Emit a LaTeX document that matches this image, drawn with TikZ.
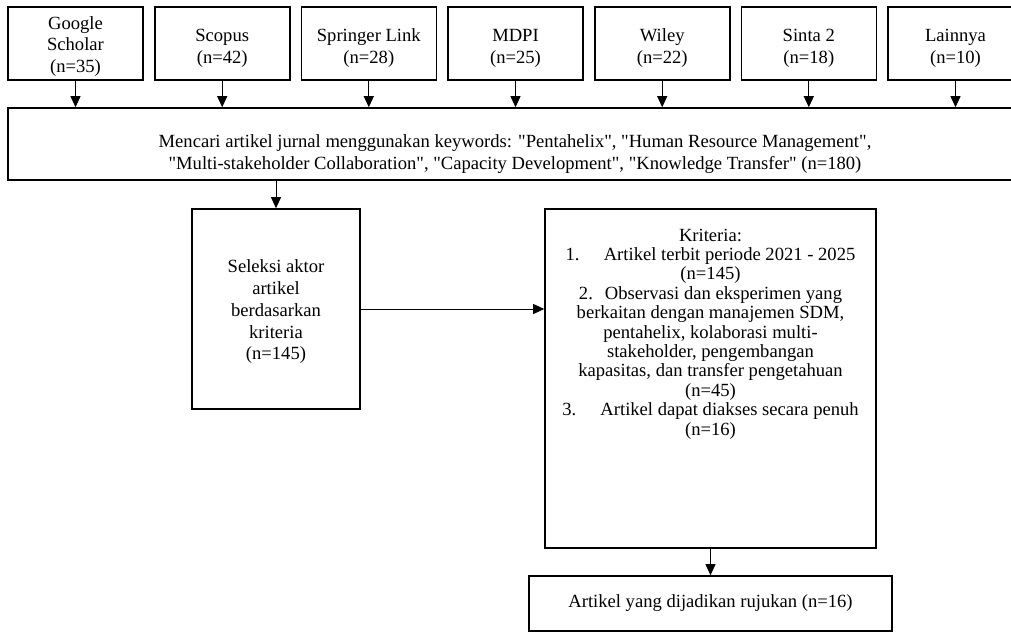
\documentclass[tikz,border=0pt]{standalone}
\usepackage{fontspec}
\setmainfont{Liberation Serif}[Ligatures=TeXOff]
\usetikzlibrary{arrows.meta}

\begin{document}
\begin{tikzpicture}[x=1pt,y=-1pt,->,>={Triangle[width=10pt,length=11pt]},line width=0.8pt,main node/.style={rectangle,draw,line width=1.6pt,align=center,inner sep=0pt,font=\fontsize{18.6}{21.7}\selectfont},src node/.style={main node,minimum width=135pt,minimum height=73pt,text height=43.5pt}]
    \useasboundingbox (0,0) rectangle (1011,633);

        \node[src node,text height=62pt] (1) at (75.5,43.5) {Google\\Scholar\\(n=35)};
        \node[src node] (2) at (222.2,43.5) {Scopus\\(n=42)};
        \node[src node] (3) at (368.8,43.5) {Springer Link\\(n=28)};
        \node[src node] (4) at (515.5,43.5) {MDPI\\(n=25)};
        \node[src node] (5) at (662.2,43.5) {Wiley\\(n=22)};
        \node[src node] (6) at (808.8,43.5) {Sinta 2\\(n=18)};
        \node[src node] (7) at (955.5,43.5) {Lainnya\\(n=10)};
        \node[main node,minimum width=1014pt,minimum height=72pt,text height=55pt] (8) at (515,144) {Mencari artikel jurnal menggunakan keywords: "Pentahelix", "Human Resource Management",\\"Multi-stakeholder Collaboration", "Capacity Development", "Knowledge Transfer" (n=180)};
        \node[main node,minimum width=168pt,minimum height=200pt,text height=105.5pt] (9) at (276,309) {Seleksi aktor\\artikel\\berdasarkan\\kriteria\\(n=145)};
        \node[main node,minimum width=331pt,minimum height=339pt] (10) at (710.5,378.5) {};
        \node[align=center,font=\fontsize{18.6}{19.4}\selectfont] (10t) at (710.5,334) {Kriteria:\\1.\hspace{1.3em}Artikel terbit periode 2021 - 2025\\(n=145)\\2.\hspace{0.65em}Observasi dan eksperimen yang\\berkaitan dengan manajemen SDM,\\pentahelix, kolaborasi multi-\\stakeholder, pengembangan\\kapasitas, dan transfer pengetahuan\\(n=45)\\3.\hspace{1.3em}Artikel dapat diakses secara penuh\\(n=16)};
        \node[main node,minimum width=363pt,minimum height=55pt] (11) at (710.5,603.5) {Artikel yang dijadikan rujukan (n=16)};

        \path
        (1) edge (1 |- 8.north)
        (2) edge (2 |- 8.north)
        (3) edge (3 |- 8.north)
        (4) edge (4 |- 8.north)
        (5) edge (5 |- 8.north)
        (6) edge (6 |- 8.north)
        (7) edge (7 |- 8.north)
        (8.south -| 9) edge (9)
        (9) edge (9 -| 10.west)
        (10) edge (11);
    \end{tikzpicture}
\end{document}
